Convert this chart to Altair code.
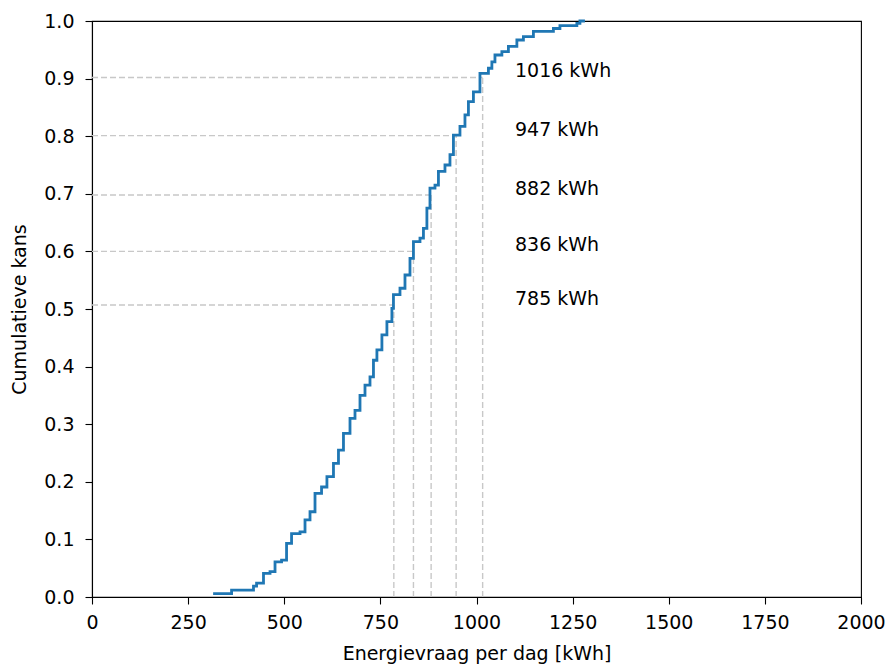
import altair as alt
import pandas as pd

# ECDF trace (energy per day in kWh, cumulative probability)
energy = [315, 363, 420, 428, 446, 463, 476, 493, 506, 519, 541, 554, 567, 580, 597,
          611, 628, 641, 654, 671, 684, 697, 710, 723, 732, 741, 754, 767, 780, 784,
          801, 814, 827, 836, 853, 862, 871, 879, 892, 901, 918, 931, 940, 957, 970,
          979, 992, 1009, 1031, 1040, 1048, 1066, 1083, 1105, 1122, 1148, 1200, 1217,
          1261, 1269, 1282]
cum_prob = [0.006, 0.012, 0.019, 0.024, 0.041, 0.044, 0.061, 0.064, 0.093, 0.110,
            0.113, 0.134, 0.148, 0.180, 0.191, 0.209, 0.232, 0.255, 0.284, 0.310,
            0.324, 0.350, 0.368, 0.382, 0.411, 0.429, 0.455, 0.478, 0.501, 0.525,
            0.536, 0.559, 0.588, 0.617, 0.623, 0.640, 0.675, 0.710, 0.715, 0.739,
            0.750, 0.768, 0.802, 0.817, 0.837, 0.860, 0.877, 0.909, 0.918, 0.929,
            0.941, 0.947, 0.956, 0.967, 0.973, 0.982, 0.987, 0.992, 0.996, 1.0, 1.0]

# Quantile markers
q_values = [785, 836, 882, 947, 1016]
q_levels = [0.507, 0.600, 0.698, 0.801, 0.902]
q_labels = ["785 kWh", "836 kWh", "882 kWh", "947 kWh", "1016 kWh"]
label_x = 1100

x_ticks = [0, 250, 500, 750, 1000, 1250, 1500, 1750, 2000]
y_ticks = [0.0, 0.1, 0.2, 0.3, 0.4, 0.5, 0.6, 0.7, 0.8, 0.9, 1.0]

curve = pd.DataFrame({"energy": energy, "prob": cum_prob})
qdf = pd.DataFrame({"q": q_values, "level": q_levels, "label": q_labels,
                    "zero": [0] * len(q_values), "lx": [label_x] * len(q_values)})

xscale = alt.Scale(domain=[0, 2000], nice=False, zero=False)
yscale = alt.Scale(domain=[0, 1], nice=False)

xaxis = alt.Axis(values=x_ticks, title="Energievraag per dag [kWh]", grid=False,
                 format="d", labelFlush=False, labelPadding=9, titlePadding=12)
yaxis = alt.Axis(values=y_ticks, title="Cumulatieve kans", grid=False, format=".1f",
                 labelPadding=11, titlePadding=14)

dash_style = dict(color="#c8c8c8", strokeWidth=1.4, strokeDash=[6, 3])

hlines = alt.Chart(qdf).mark_rule(**dash_style).encode(
    x=alt.X("zero:Q", scale=xscale, axis=xaxis),
    x2="q:Q",
    y=alt.Y("level:Q", scale=yscale, axis=yaxis),
)
vlines = alt.Chart(qdf).mark_rule(**dash_style).encode(
    x=alt.X("q:Q", scale=xscale),
    y=alt.Y("zero:Q", scale=yscale),
    y2="level:Q",
)
line = alt.Chart(curve).mark_line(color="#1f77b4", strokeWidth=2.8,
                                  interpolate="step-after").encode(
    x=alt.X("energy:Q", scale=xscale),
    y=alt.Y("prob:Q", scale=yscale),
)
labels = alt.Chart(qdf).mark_text(align="left", baseline="alphabetic",
                                  fontSize=19, font="DejaVu Sans",
                                  color="#000000").encode(
    x=alt.X("lx:Q", scale=xscale),
    y=alt.Y("level:Q", scale=yscale),
    text="label:N",
)

chart = alt.layer(hlines, vlines, line, labels).properties(
    width=769, height=576,
    autosize=alt.AutoSizeParams(type="none"),
    padding={"left": 92, "top": 21, "right": 30, "bottom": 67},
).configure_view(
    stroke="#000000", strokeWidth=1.1
).configure_axis(
    labelFont="DejaVu Sans", titleFont="DejaVu Sans",
    labelFontSize=19, titleFontSize=19,
    labelColor="#000000", titleColor="#000000",
    titleFontWeight="normal",
    domainColor="#000000", tickColor="#000000", domainWidth=1.1, tickWidth=1.1,
    tickSize=7,
)

chart.save("out.html", embed_options={"renderer": "svg", "actions": False})
